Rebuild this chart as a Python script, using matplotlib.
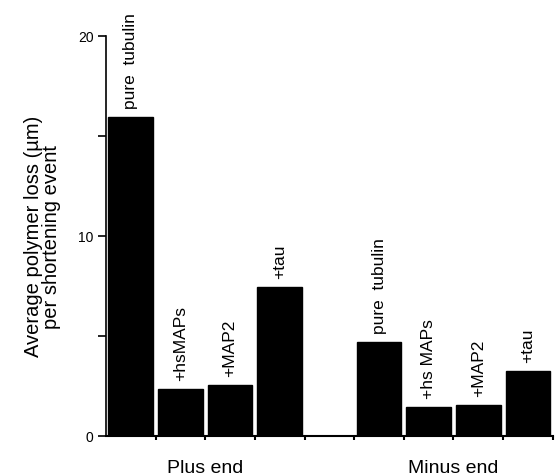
import numpy as np
import matplotlib.pyplot as plt

plt.rcParams['font.family'] = ['Liberation Sans', 'DejaVu Sans']

# values
plus_labels = ["pure  tubulin", "+hsMAPs", "+MAP2", "+tau"]
plus_values = [15.95, 2.35, 2.55, 7.45]
minus_labels = ["pure  tubulin", "+hs MAPs", "+MAP2", "+tau"]
minus_values = [4.7, 1.45, 1.55, 3.25]
group_names = ["Plus end", "Minus end"]

fig = plt.figure(figsize=(5.55, 4.77), dpi=100)
ax = fig.add_axes([0.191, 0.084, 0.805, 0.839])

pos_plus = np.arange(4) + 0.5
pos_minus = np.arange(4) + 5.5
pos = np.concatenate([pos_plus, pos_minus])
vals = plus_values + minus_values
labs = plus_labels + minus_labels

ax.bar(pos, vals, width=0.9, color="black", edgecolor="black")

for x, v, t in zip(pos, vals, labs):
    ax.text(x, v + 0.45, t, rotation=90, ha="center", va="bottom",
            fontsize=12.5, clip_on=False)

ax.set_xlim(0, 9)
ax.set_ylim(0, 20)
ax.set_xticks(np.arange(1, 10))
ax.set_xticklabels([])
ax.set_yticks([0, 5, 10, 15, 20])
ax.set_yticklabels(["0", "", "10", "", "20"], fontsize=10)
ax.tick_params(axis="y", direction="out", length=6, width=1.2, pad=3)
ax.tick_params(axis="x", direction="out", length=3, width=1.5)

ax.spines["top"].set_visible(False)
ax.spines["right"].set_visible(False)
ax.spines["left"].set_linewidth(1.2)
ax.spines["bottom"].set_linewidth(1.5)

ax.text(2, -1.6, group_names[0], ha="center", va="center", fontsize=14)
ax.text(7, -1.6, group_names[1], ha="center", va="center", fontsize=14)

ax.set_ylabel("Average polymer loss (µm)\nper shortening event", fontsize=14.5,
              labelpad=12, linespacing=0.95, multialignment="center")

plt.savefig("out.png", dpi=100)
